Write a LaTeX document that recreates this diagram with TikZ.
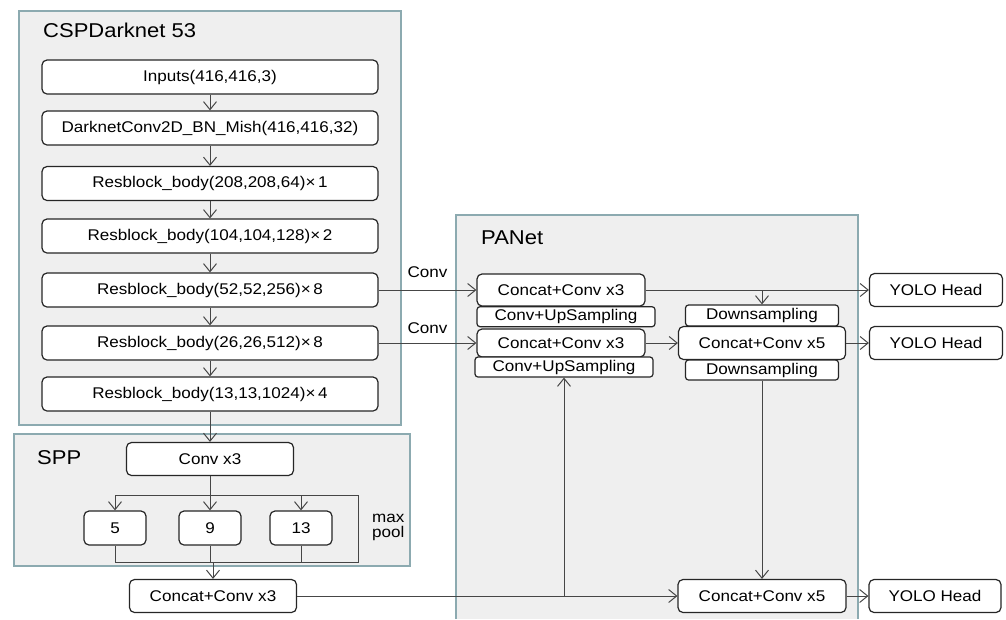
\documentclass[tikz,border=0pt]{standalone}
\usepackage{fontspec}
\setmainfont{Liberation Sans}[FakeStretch=1.1]
\usetikzlibrary{arrows.meta}
\definecolor{regionbg}{RGB}{239,239,239}
\definecolor{regionline}{RGB}{140,170,176}
\definecolor{wirecol}{RGB}{70,70,70}

\begin{document}
\begin{tikzpicture}[x=1pt,y=-1pt,
    blk/.style={draw=black!85,line width=1.2pt,fill=white,rounded corners=5pt,inner sep=0pt,
      font=\fontsize{15.5}{16}\selectfont},
    csp/.style={blk,minimum width=336pt,minimum height=34pt},
    thin/.style={blk,rounded corners=3pt,minimum height=20pt},
    region/.style={fill=regionbg,draw=regionline,line width=1.6pt},
    title/.style={anchor=west,inner sep=0pt,font=\fontsize{20}{20}\selectfont},
    wire/.style={draw=wirecol,line width=1pt},
    flow/.style={wire,-{Straight Barb[length=8pt,width=13pt]}}]
  \useasboundingbox (0,0) rectangle (1006,619);

  % grey panels
  \draw[region] (19,11) rectangle (401,425);
  \draw[region] (14,434) rectangle (410,566);
  \fill[regionbg] (456,215) rectangle (858,619);
  \draw[regionline,line width=1.6pt] (456,619) |- (858,215) -- (858,619);
  \node[title] at (43,30) {CSPDarknet 53};
  \node[title] at (37,458) {SPP};
  \node[title] at (481,238) {PANet};

  % backbone
  \node[csp] (inp) at (210,77) {Inputs(416,416,3)};
  \node[csp] (dk)  at (210,128) {DarknetConv2D\_BN\_Mish(416,416,32)};
  \node[csp] (rb1) at (210,183.5) {Resblock\_body(208,208,64)×\,1};
  \node[csp] (rb2) at (210,236) {Resblock\_body(104,104,128)×\,2};
  \node[csp] (rb3) at (210,290) {Resblock\_body(52,52,256)×\,8};
  \node[csp] (rb4) at (210,343) {Resblock\_body(26,26,512)×\,8};
  \node[csp] (rb5) at (210,394) {Resblock\_body(13,13,1024)×\,4};
  \foreach \a/\b in {inp/dk,dk/rb1,rb1/rb2,rb2/rb3,rb3/rb4,rb4/rb5}
    \draw[flow] (\a) -- (\b);

  % spp
  \node[blk,minimum width=167pt,minimum height=33pt] (conv) at (210,459) {Conv x3};
  \node[blk,minimum width=62pt,minimum height=34pt] (p5) at (115,528) {5};
  \node[blk,minimum width=62pt,minimum height=34pt] (p9) at (210,528) {9};
  \node[blk,minimum width=62pt,minimum height=34pt] (p13) at (301,528) {13};
  \node[anchor=west,align=left,inner sep=0pt,font=\fontsize{15.5}{15}\selectfont] (mp) at (372,527) {max\\pool};
  \node[blk,minimum width=167pt,minimum height=33pt] (sppout) at (213,596) {Concat+Conv x3};
  \coordinate (tl) at (115,495);
  \coordinate (tr) at (358,495);
  \coordinate (br) at (358,562);
  \coordinate (bl) at (115,562);
  \draw[flow] (rb5) -- (conv);
  \draw[flow] (conv) -- (p9);
  \draw[wire] (tl) -- (tr) -- (br) -- (bl) -- (p5.south);
  \draw[wire] (p9) -- (p9 |- bl);
  \draw[wire] (p13) -- (p13 |- bl);
  \draw[flow] (tl) -- (p5);
  \draw[flow] (p13 |- tl) -- (p13);
  \draw[flow] (sppout.north |- bl) -- (sppout);

  % panet
  \node[blk,minimum width=168pt,minimum height=32pt] (cc1) at (561,290) {Concat+Conv x3};
  \node[thin,minimum width=178pt] (up1) at (566,316.7) {Conv+UpSampling};
  \node[blk,minimum width=168pt,minimum height=28pt] (cc2) at (561,343) {Concat+Conv x3};
  \node[thin,minimum width=178pt] (up2) at (564,367) {Conv+UpSampling};
  \node[thin,minimum width=153pt,minimum height=21pt] (ds1) at (762,315.5) {Downsampling};
  \node[blk,minimum width=167pt,minimum height=33pt] (cc5) at (762,343) {Concat+Conv x5};
  \node[thin,minimum width=153pt] (ds2) at (762,370) {Downsampling};
  \node[blk,minimum width=168pt,minimum height=33pt] (cc5b) at (762,596) {Concat+Conv x5};
  \node[blk,minimum width=133pt,minimum height=33pt] (yh1) at (936,290) {YOLO Head};
  \node[blk,minimum width=133pt,minimum height=33pt] (yh2) at (936,343) {YOLO Head};
  \node[blk,minimum width=132pt,minimum height=33pt] (yh3) at (935,596) {YOLO Head};

  \draw[flow] (rb3) -- node[midway,yshift=18pt,font=\fontsize{15.5}{16}\selectfont]{Conv} (cc1);
  \draw[flow] (rb4) -- node[midway,yshift=15pt,font=\fontsize{15.5}{16}\selectfont]{Conv} (cc2);
  \draw[flow] (cc1) -- (yh1);
  \draw[flow] (ds1 |- cc1.east) -- (ds1);
  \draw[flow] (cc2) -- (cc5);
  \draw[flow] (cc5) -- (yh2);
  \draw[flow] (ds2) -- (cc5b);
  \draw[flow] (sppout) -- (cc5b);
  \draw[flow] (up2 |- sppout.east) -- (up2);
  \draw[flow] (cc5b) -- (yh3);
\end{tikzpicture}
\end{document}
